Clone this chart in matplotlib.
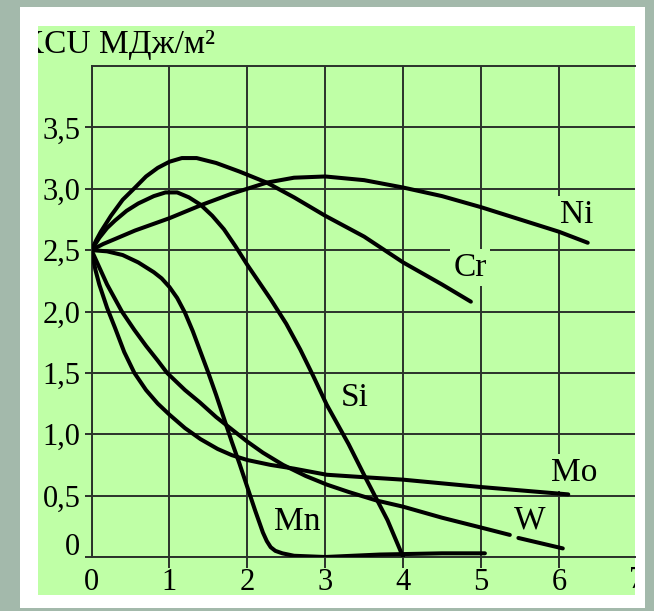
import numpy as np
import matplotlib.pyplot as plt
from matplotlib.patches import Rectangle

# KCU (MJ/m2) vs alloying element content, %
ni_x = [0, 0.15, 0.3, 0.56, 1.0, 1.42, 1.8, 2.25, 2.6, 3.0, 3.5, 4.0, 4.5, 5.0, 5.5, 6.0, 6.37]
ni_y = [2.5, 2.55, 2.59, 2.66, 2.76, 2.87, 2.96, 3.05, 3.09, 3.1, 3.07, 3.01, 2.94, 2.85, 2.75, 2.65, 2.56]

cr_x = [0, 0.06, 0.12, 0.25, 0.4, 0.56, 0.7, 0.85, 1.0, 1.16, 1.35, 1.6, 1.9, 2.25, 2.6, 3.0, 3.5, 4.0, 4.5, 4.87]
cr_y = [2.5, 2.58, 2.65, 2.78, 2.91, 3.01, 3.1, 3.17, 3.22, 3.25, 3.25, 3.21, 3.14, 3.05, 2.93, 2.78, 2.61, 2.4, 2.22, 2.08]

si_x = [0, 0.1, 0.2, 0.3, 0.45, 0.6, 0.8, 0.95, 1.1, 1.25, 1.4, 1.55, 1.7, 1.85, 2.0,
        2.15, 2.3, 2.5, 2.68, 2.85, 3.02, 3.3, 3.53, 3.8, 4.0]
si_y = [2.5, 2.6, 2.68, 2.74, 2.82, 2.88, 2.94, 2.97, 2.97, 2.93, 2.87, 2.78, 2.67, 2.53, 2.38,
        2.24, 2.1, 1.9, 1.69, 1.47, 1.24, 0.92, 0.63, 0.3, 0.0]

mn_x = [0, 0.2, 0.4, 0.6, 0.8, 0.9, 1.0, 1.1, 1.2, 1.3, 1.4, 1.5, 1.6, 1.7, 1.8, 1.9, 2.0,
        2.1, 2.2, 2.25, 2.3, 2.36, 2.45, 2.6, 3.0, 3.7, 4.5, 5.05]
mn_y = [2.5, 2.49, 2.46, 2.4, 2.32, 2.27, 2.2, 2.11, 1.99, 1.84, 1.67, 1.5, 1.32, 1.13, 0.94, 0.76, 0.57,
        0.38, 0.2, 0.13, 0.08, 0.05, 0.03, 0.01, 0.0, 0.02, 0.03, 0.03]

mo_x = [0, 0.05, 0.1, 0.2, 0.3, 0.42, 0.55, 0.7, 0.85, 1.0, 1.2, 1.4, 1.62, 1.8, 2.0, 2.3, 2.6, 3.02, 3.5, 4.0, 5.0, 6.12]
mo_y = [2.5, 2.34, 2.22, 2.03, 1.87, 1.67, 1.5, 1.36, 1.25, 1.16, 1.05, 0.96, 0.88, 0.83, 0.79, 0.75, 0.72, 0.67, 0.65, 0.63, 0.57, 0.51]

w_x = [0, 0.1, 0.2, 0.39, 0.55, 0.7, 0.85, 0.97, 1.2, 1.39, 1.6, 1.76, 2.0, 2.2, 2.46, 2.75, 3.02, 3.3, 3.66, 4.0, 4.5, 5.0, 5.37]
w_y = [2.5, 2.36, 2.22, 2.0, 1.85, 1.72, 1.6, 1.5, 1.36, 1.26, 1.14, 1.06, 0.94, 0.85, 0.75, 0.66, 0.59, 0.53, 0.46, 0.41, 0.32, 0.24, 0.18]
w_tail_x = [5.48, 6.05]   # the W line is cut by its label
w_tail_y = [0.155, 0.07]

labels = ['Ni', 'Cr', 'Si', 'Mo', 'W', 'Mn']
label_x = [6.23, 4.86, 3.38, 6.2, 5.63, 2.64]
label_y = [2.79, 2.36, 1.30, 0.69, 0.30, 0.285]

x_ticks = [0, 1, 2, 3, 4, 5, 6]
y_ticks = [0, 0.5, 1.0, 1.5, 2.0, 2.5, 3.0, 3.5]
y_ticklabels = ['', '0,5', '1,0', '1,5', '2,0', '2,5', '3,0', '3,5']

GREEN = '#bfffa6'
INK = '#2a322a'

plt.rcParams['font.family'] = ['Liberation Serif', 'DejaVu Serif']

W, H = 654, 611
def frac(x0, y0, x1, y1):
    # pixel box (origin top-left) -> figure rect
    return [x0 / W, 1 - y1 / H, (x1 - x0) / W, (y1 - y0) / H]

fig = plt.figure(figsize=(6.54, 6.11), dpi=100)
fig.patch.set_facecolor('#a3b9ab')
r = frac(20, 7, 645, 608)
fig.patches.append(Rectangle((r[0], r[1]), r[2], r[3], transform=fig.transFigure,
                             facecolor='white', edgecolor='none', zorder=-5))

bg = fig.add_axes(frac(37.5, 26, 635, 595))
bg.set_facecolor(GREEN)
bg.set_xticks([])
bg.set_yticks([])
for s in bg.spines.values():
    s.set_visible(False)

ax = fig.add_axes(frac(91.5, 66, 635, 557))
ax.patch.set_alpha(0)
ax.set_xlim(0, (635 - 91.5) / 77.9)
ax.set_ylim(0, 4)
ax.set_xticks(x_ticks)
ax.set_xticklabels([str(t) for t in x_ticks])
ax.set_yticks(y_ticks)
ax.set_yticklabels(y_ticklabels)
ax.grid(True, color=INK, lw=1.4, zorder=1)
ax.set_axisbelow(True)
ax.tick_params(axis='x', length=8, width=1.4, color=INK, pad=0, labelsize=22)
ax.tick_params(axis='y', length=5, width=1.4, color=INK, pad=3, labelsize=22)
ax.xaxis.get_major_ticks()[0].tick1line.set_visible(False)
ax.spines['right'].set_visible(False)
for side in ['left', 'bottom', 'top']:
    ax.spines[side].set_color(INK)
    ax.spines[side].set_linewidth(1.4)

# the "0" of the y axis sits a little above its line
ax.text(-0.15, 0.075, '0', fontsize=22, ha='right', va='center')

for xs, ys in [(ni_x, ni_y), (cr_x, cr_y), (si_x, si_y), (mn_x, mn_y),
               (mo_x, mo_y), (w_x, w_y), (w_tail_x, w_tail_y)]:
    ax.plot(xs, ys, color='black', lw=2.9, solid_capstyle='round',
            solid_joinstyle='round', zorder=3)

for name, lx, ly in zip(labels, label_x, label_y):
    ax.text(lx, ly, name, fontsize=24, ha='center', va='center', zorder=2,
            bbox=dict(boxstyle='square,pad=0.1', fc=GREEN, ec='none'))

# "7" is cut by the edge of the green field, like the title
bg.text(7, -0.19, '7', transform=ax.transData, fontsize=22, ha='center', va='center',
        clip_on=True)
bg.text(-0.03, 0.9525, 'KCU МДж/м²', transform=bg.transAxes, fontsize=24,
        ha='left', va='baseline', clip_on=True)

fig.savefig('out.png', dpi=100, facecolor=fig.get_facecolor())
